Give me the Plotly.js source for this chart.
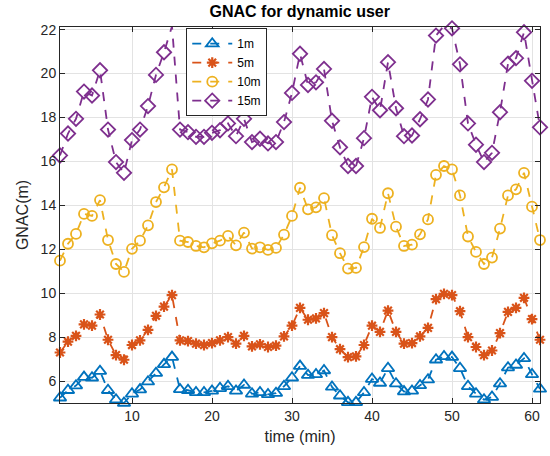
<!DOCTYPE html>
<html>
<head>
<meta charset="utf-8">
<script src="https://cdn.plot.ly/plotly-3.0.1.min.js"></script>
<style>html,body{margin:0;padding:0;background:#fff}#chart{width:550px;height:456px}</style>
</head>
<body>
<div id="chart"></div>
<script>
const timeMin = Array.from({length: 61}, (_, i) => i + 1);
const seriesNames = ["1m", "5m", "10m", "15m"];
const gnac1m = [5.24,5.58,5.79,6.18,6.15,6.45,5.58,5.15,5.0,5.42,5.61,5.97,6.36,6.76,7.09,5.62,
  5.58,5.48,5.48,5.55,5.67,5.76,5.55,5.82,5.42,5.48,5.39,5.45,5.76,6.15,6.68,
  6.27,6.30,6.48,5.73,5.33,5.03,5.03,5.48,6.09,5.91,6.58,5.88,5.52,5.55,5.8,
  6.06,6.97,7.12,7.09,6.58,5.76,5.42,5.15,5.27,5.88,6.61,6.73,7.03,6.30,5.64];
const gnac5m = [7.30,7.79,8.06,8.58,8.52,9.03,7.88,7.18,6.97,7.64,7.85,8.33,8.97,9.39,9.91,7.85,
  7.82,7.70,7.64,7.73,7.85,8.0,7.70,8.06,7.58,7.67,7.55,7.61,8.03,8.52,9.33,
  8.79,8.85,9.09,8.0,7.45,7.09,7.12,7.64,8.52,8.24,9.21,8.24,7.70,7.73,8.03,
  8.42,9.73,9.97,9.91,9.18,8.0,7.55,7.18,7.39,8.18,9.15,9.33,9.79,8.82,7.88];
const gnac10m = [11.48,12.25,12.70,13.61,13.52,14.24,12.42,11.33,10.97,12.02,12.39,13.09,14.15,14.82,15.64,12.39,
  12.33,12.15,12.09,12.27,12.39,12.61,12.18,12.76,12.03,12.09,11.97,12.06,12.67,13.52,14.8,
  13.82,13.91,14.33,12.64,11.82,11.12,11.15,12.1,13.39,12.97,14.55,13.03,12.15,12.21,12.68,
  13.36,15.39,15.79,15.64,14.45,12.58,11.88,11.33,11.62,12.94,14.45,14.73,15.48,13.94,12.42];
const gnac15m = [16.27,17.27,17.94,19.18,19.0,20.15,17.45,15.97,15.48,16.97,17.45,18.52,19.94,20.97,22.15,17.45,
  17.33,17.12,17.12,17.3,17.42,17.73,17.15,17.94,16.88,17.03,16.82,16.88,17.79,19.12,20.9,
  19.48,19.6,20.21,17.85,16.64,15.79,15.79,17.06,18.94,18.33,20.52,18.42,17.15,17.18,17.92,
  18.82,21.73,22.18,22.06,20.42,17.73,16.76,15.97,16.39,18.24,20.45,20.7,21.88,19.67,17.55];
const tickVals = [10,20,30,40,50,60];
const yTickVals = [6,8,10,12,14,16,18,20,22];

const colors = ["#0072BD", "#D95319", "#EDB120", "#7E2F8E"];
const symbols = ["triangle-up-open", "asterisk-open", "circle-open", "diamond-open"];
const sizes = [11, 9, 10, 11];
const allY = [gnac1m, gnac5m, gnac10m, gnac15m];

const traces = allY.map((ys, i) => ({
  x: timeMin, y: ys, name: seriesNames[i], type: "scatter", mode: "lines+markers",
  line: {color: colors[i], width: 1.8, dash: "dash"},
  marker: {symbol: symbols[i], size: sizes[i], color: colors[i],
           line: {color: colors[i], width: i === 1 ? 2.2 : 1.8}},
  cliponaxis: false
}));

const FONT = "Liberation Sans, Arial, sans-serif";
const axisCommon = {
  showline: true, linecolor: "#262626", linewidth: 1, mirror: "ticks",
  ticks: "inside", ticklen: 5, tickcolor: "#262626",
  showgrid: true, gridcolor: "#e3e3e3", gridwidth: 1, zeroline: false,
  tickfont: {family: FONT, size: 14, color: "#262626"}
};

const layout = {
  width: 550, height: 456,
  margin: {l: 60, r: 10, t: 27, b: 53},
  paper_bgcolor: "#ffffff", plot_bgcolor: "#ffffff",
  showlegend: true,
  title: {text: "<b>GNAC for dynamic user</b>", x: 0.545, xanchor: "center", y: 0.988, yanchor: "top",
          font: {family: FONT, size: 16, color: "#000"}},
  xaxis: Object.assign({}, axisCommon, {range: [1, 61], tickvals: tickVals,
    title: {text: "time (min)", standoff: 8, font: {family: FONT, size: 16, color: "#262626"}}}),
  yaxis: Object.assign({}, axisCommon, {range: [5, 22.12], tickvals: yTickVals,
    title: {text: "GNAC(m)", standoff: 8, font: {family: FONT, size: 16, color: "#262626"}}}),
  legend: {x: 0.263, y: 0.997, xanchor: "left", yanchor: "top",
    bgcolor: "#ffffff", bordercolor: "#262626", borderwidth: 1,
    font: {family: FONT, size: 12, color: "#000"},
    tracegroupgap: 0, itemwidth: 40}
};

Plotly.newPlot("chart", traces, layout, {displayModeBar: false, staticPlot: true});
</script>
</body>
</html>
